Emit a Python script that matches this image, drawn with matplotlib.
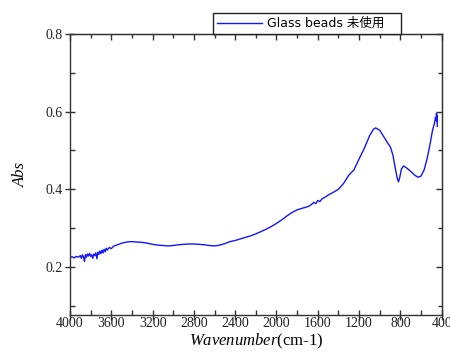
"""
FT-IR absorbance spectrum of unused glass beads.
"""
import matplotlib
matplotlib.use('Agg')
import matplotlib.pyplot as plt
from matplotlib.ticker import MultipleLocator

# spectrum, wavenumber (cm-1) vs absorbance
WAVENUMBER = [
    4000, 3980, 3960, 3940, 3920, 3900, 3890, 3880, 3870, 3860,
    3850, 3840, 3830, 3820, 3810, 3800, 3790, 3780, 3770, 3760,
    3750, 3740, 3730, 3720, 3710, 3700, 3690, 3680, 3670, 3660,
    3650, 3640, 3620, 3600, 3580, 3560, 3540, 3520, 3500, 3450,
    3420, 3400, 3350, 3300, 3250, 3200, 3150, 3100, 3050, 3000,
    2950, 2900, 2850, 2800, 2750, 2700, 2650, 2600, 2550, 2500,
    2450, 2400, 2350, 2300, 2250, 2200, 2150, 2100, 2050, 2000,
    1950, 1900, 1850, 1800, 1750, 1700, 1680, 1660, 1640, 1620,
    1600, 1580, 1560, 1540, 1520, 1500, 1450, 1400, 1350, 1300,
    1250, 1200, 1150, 1100, 1060, 1040, 1000, 960, 920, 895,
    870, 850, 830, 818, 805, 790, 770, 740, 700, 660,
    630, 600, 570, 540, 510, 490, 470, 460, 455, 450,
    447, 445, 443,
]
ABSORBANCE = [
    0.224, 0.226, 0.223, 0.227, 0.225, 0.229, 0.222, 0.231, 0.226, 0.214,
    0.232, 0.225, 0.233, 0.228, 0.235, 0.227, 0.231, 0.222, 0.233, 0.229,
    0.236, 0.221, 0.238, 0.232, 0.241, 0.234, 0.243, 0.236, 0.245, 0.239,
    0.248, 0.243, 0.250, 0.247, 0.253, 0.255, 0.257, 0.259, 0.261, 0.264,
    0.265, 0.265, 0.264, 0.263, 0.261, 0.258, 0.256, 0.255, 0.254, 0.255,
    0.257, 0.258, 0.259, 0.259, 0.258, 0.257, 0.255, 0.254, 0.256, 0.260,
    0.265, 0.268, 0.272, 0.276, 0.280, 0.285, 0.291, 0.297, 0.304, 0.312,
    0.321, 0.331, 0.340, 0.347, 0.351, 0.355, 0.357, 0.361, 0.366, 0.363,
    0.371, 0.368, 0.375, 0.378, 0.381, 0.385, 0.392, 0.400, 0.415, 0.436,
    0.450, 0.478, 0.505, 0.537, 0.555, 0.558, 0.552, 0.535, 0.518, 0.508,
    0.485, 0.455, 0.428, 0.419, 0.432, 0.452, 0.460, 0.455, 0.446, 0.436,
    0.431, 0.434, 0.450, 0.480, 0.520, 0.550, 0.570, 0.585, 0.578, 0.596,
    0.575, 0.590, 0.562,
]
LABEL = 'Glass beads 未使用'

plt.rcParams['font.family'] = ['Liberation Serif']
plt.rcParams['mathtext.fontset'] = 'custom'
plt.rcParams['mathtext.it'] = 'Liberation Serif:italic'
plt.rcParams['mathtext.rm'] = 'Liberation Serif'

AX_COLOR = '#333333'

fig = plt.figure(figsize=(4.5, 3.56), dpi=100)
ax = fig.add_axes([0.1556, 0.1152, 0.8259, 0.7893])

ax.plot(WAVENUMBER, ABSORBANCE, color='#1414ff', linewidth=1.0, label=LABEL)

ax.set_xlim(4000, 400)
ax.set_ylim(0.076, 0.8)
ax.xaxis.set_major_locator(MultipleLocator(400))
ax.xaxis.set_minor_locator(MultipleLocator(200))
ax.set_yticks([0.2, 0.4, 0.6, 0.8])
ax.yaxis.set_minor_locator(MultipleLocator(0.1))

for side in ['left', 'right', 'top', 'bottom']:
    ax.spines[side].set_color(AX_COLOR)
    ax.spines[side].set_linewidth(1.0)

# labelled sides: ticks cross the spine
ax.tick_params(which='major', direction='inout', length=7, width=1,
               colors=AX_COLOR, labelcolor='#222222', labelsize=10)
ax.tick_params(which='minor', direction='in', length=3.5, width=1,
               colors=AX_COLOR)
ax.tick_params(axis='x', which='major', pad=-2)
ax.tick_params(axis='y', which='major', pad=2)

# top and right: inward ticks only, no labels
top = ax.secondary_xaxis('top')
top.xaxis.set_major_locator(MultipleLocator(400))
top.xaxis.set_minor_locator(MultipleLocator(200))
top.tick_params(which='major', direction='in', length=4, width=1,
                colors=AX_COLOR, labeltop=False)
top.tick_params(which='minor', direction='in', length=3, width=1,
                colors=AX_COLOR)
right = ax.secondary_yaxis('right')
right.set_yticks([0.2, 0.4, 0.6, 0.8])
right.yaxis.set_minor_locator(MultipleLocator(0.1))
right.tick_params(which='major', direction='in', length=4, width=1,
                  colors=AX_COLOR, labelright=False)
right.tick_params(which='minor', direction='in', length=3, width=1,
                  colors=AX_COLOR)
for sec in (top, right):
    for sp in sec.spines.values():
        sp.set_color(AX_COLOR)

ax.set_xlabel(r'$\it{Wavenumber}$(cm-1)', fontsize=12, labelpad=1)
ax.set_ylabel('Abs', fontsize=12, fontstyle='italic', labelpad=12)

leg = ax.legend(loc='lower left', bbox_to_anchor=(0.385, 1.0, 0.506, 0.05),
                mode='expand', borderaxespad=0, fancybox=False,
                edgecolor='#222222', framealpha=1, handlelength=3.6,
                handletextpad=0.4, borderpad=0.3,
                prop={'family': ['DejaVu Sans', 'Noto Sans CJK SC'], 'size': 9})
leg.get_frame().set_linewidth(1.0)

fig.savefig('out.png', dpi=100)
